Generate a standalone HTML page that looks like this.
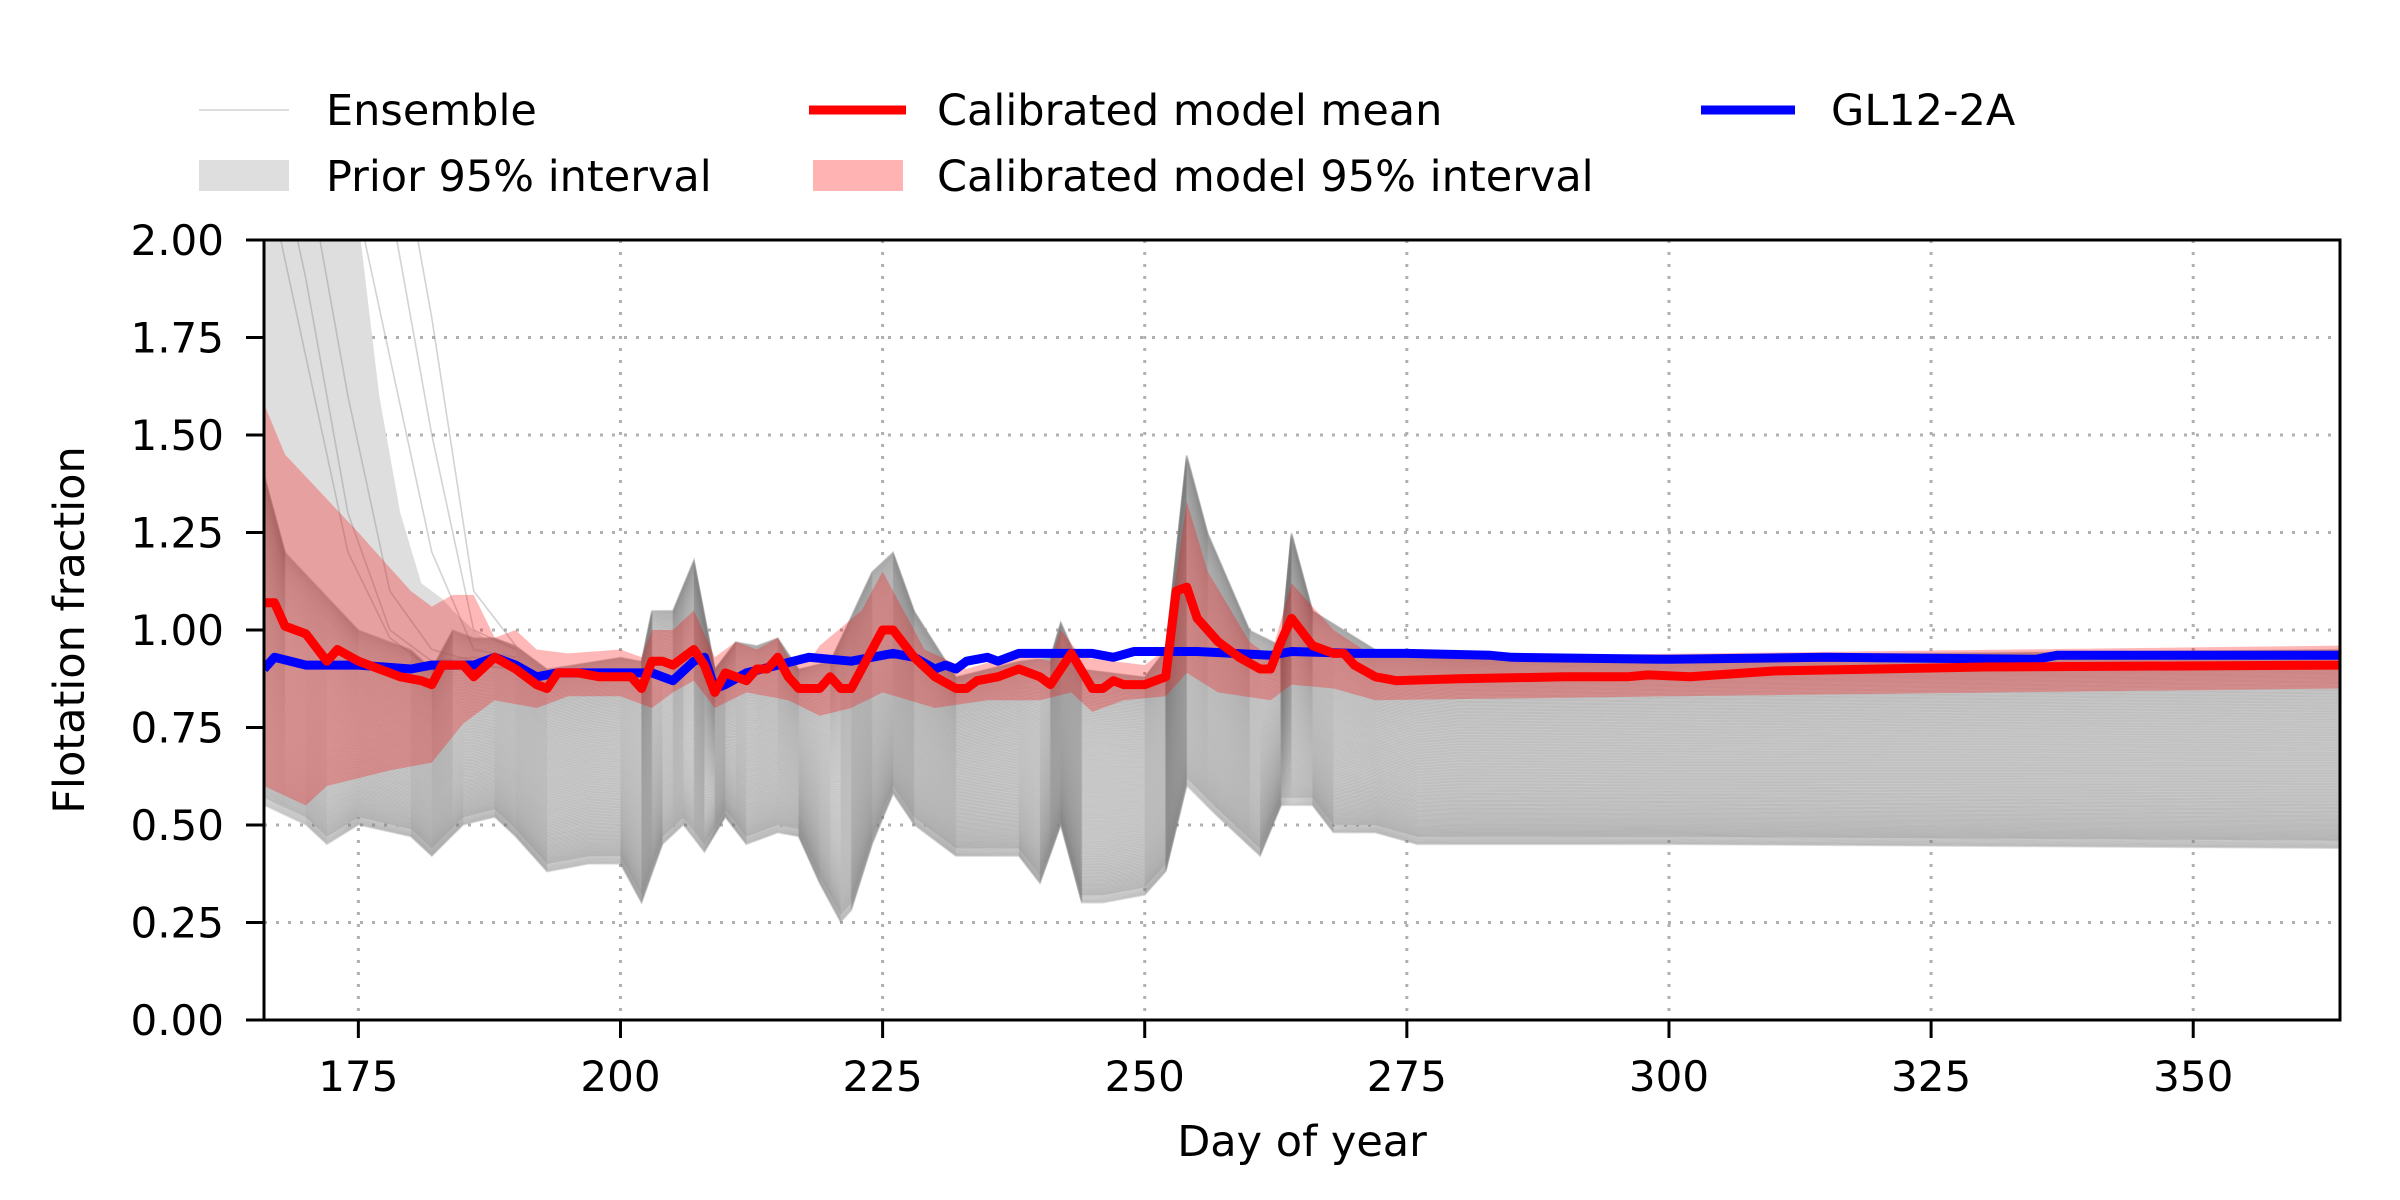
<!DOCTYPE html>
<html><head><meta charset="utf-8"><style>
html,body{margin:0;padding:0;background:#fff;}
svg{display:block;font-family:"DejaVu Sans","Liberation Sans",sans-serif;}
</style></head><body>
<svg id="chart" width="2400" height="1200" viewBox="0 0 2400 1200" xmlns="http://www.w3.org/2000/svg">
<defs><clipPath id="plotclip"><rect x="264" y="240" width="2076" height="780"/></clipPath></defs>
<g id="grid"></g>
<g id="plot" clip-path="url(#plotclip)"></g>
<rect x="264" y="240" width="2076" height="780" fill="none" stroke="#000" stroke-width="3"/>
<g id="axes"></g>
<text x="1302" y="1156" font-size="43" text-anchor="middle">Day of year</text>
<text transform="translate(84,630) rotate(-90)" font-size="43" text-anchor="middle">Flotation fraction</text>
<g font-size="43">
  <g><line x1="199" y1="110" x2="289" y2="110" stroke="#ddd" stroke-width="2"/><text x="326" y="125">Ensemble</text></g>
  <g><rect x="199" y="160" width="90" height="31" fill="#dedede"/><text x="326" y="191">Prior 95% interval</text></g>
  <g><line x1="809" y1="110" x2="906" y2="110" stroke="#ff0000" stroke-width="9"/><text x="937" y="125">Calibrated model mean</text></g>
  <g><rect x="813" y="160" width="90" height="31" fill="#ffb3b3"/><text x="937" y="191">Calibrated model 95% interval</text></g>
  <g><line x1="1701" y1="110" x2="1795" y2="110" stroke="#0000ff" stroke-width="9"/><text x="1831" y="125">GL12-2A</text></g>
</g>
</svg>
<script>
const xTicks=[175,200,225,250,275,300,325,350];
const yTicks=[0,0.25,0.5,0.75,1.0,1.25,1.5,1.75,2.0];
const yTickLabels=["0.00","0.25","0.50","0.75","1.00","1.25","1.50","1.75","2.00"];
const meanDays=[166,167,168,170,172,173,175,177,179,181,182,183,185,186,188,190,192,193,194,196,198,201,202,203,204,205,207,208,209,210,212,213,214,215,216,217,219,220,221,222,224,225,226,228,230,232,233,234,236,238,240,241,243,245,246,247,248,250,252,253,254,255,257,259,261,262,263,264,266,268,269,270,272,274,280,290,296,298,302,310,330,364];
const meanVals=[1.07,1.07,1.01,0.99,0.92,0.95,0.92,0.90,0.88,0.87,0.86,0.91,0.91,0.88,0.93,0.90,0.86,0.85,0.89,0.89,0.88,0.88,0.85,0.92,0.92,0.91,0.95,0.91,0.84,0.89,0.87,0.90,0.90,0.93,0.88,0.85,0.85,0.88,0.85,0.85,0.95,1.00,1.00,0.93,0.88,0.85,0.85,0.87,0.88,0.90,0.88,0.86,0.94,0.85,0.85,0.87,0.86,0.86,0.88,1.10,1.11,1.03,0.97,0.93,0.90,0.90,0.97,1.03,0.96,0.94,0.94,0.91,0.88,0.87,0.875,0.88,0.88,0.885,0.88,0.895,0.905,0.91];
const obsDays=[166,167,170,175,180,182,186,188,190,192,194,200,203,205,207,208,209,210,212,215,218,222,226,228,230,231,232,233,235,236,238,245,247,249,255,262,264,270,275,283,285,300,315,335,337,364];
const obsVals=[0.90,0.93,0.91,0.91,0.90,0.91,0.91,0.93,0.91,0.88,0.89,0.89,0.89,0.87,0.92,0.93,0.85,0.86,0.89,0.91,0.93,0.92,0.94,0.93,0.90,0.91,0.90,0.92,0.93,0.92,0.94,0.94,0.93,0.945,0.945,0.935,0.945,0.94,0.94,0.935,0.93,0.925,0.93,0.925,0.935,0.935];
const calUpDays=[166,168,175,180,182,184,186,188,190,192,195,200,202,203,205,207,209,211,213,215,216,218,219,223,225,227,229,233,238,241,242,244,250,252,254,256,260,262,264,268,272,364];
const calUpVals=[1.58,1.45,1.25,1.10,1.06,1.09,1.09,0.98,1.00,0.95,0.94,0.95,0.93,1.00,1.00,1.05,0.93,0.97,0.95,0.98,0.93,0.92,0.96,1.05,1.15,1.05,0.95,0.90,0.94,0.92,1.00,0.93,0.91,0.95,1.33,1.15,0.97,0.93,1.12,1.00,0.93,0.96];
const calLoDays=[166,170,172,178,182,185,188,192,195,200,203,205,207,209,212,216,219,222,225,230,235,240,243,245,248,252,254,257,262,264,268,272,300,364];
const calLoVals=[0.60,0.55,0.60,0.64,0.66,0.76,0.82,0.80,0.83,0.83,0.80,0.84,0.87,0.80,0.84,0.82,0.78,0.80,0.84,0.80,0.82,0.82,0.84,0.79,0.82,0.83,0.89,0.84,0.82,0.86,0.85,0.82,0.83,0.85];
const ensUpDays=[166,168,175,180,182,184,186,188,190,193,200,202,203,205,207,209,211,213,215,217,220,224,226,228,232,238,241,242,244,250,252,254,256,260,263,264,266,269,272,280,364];
const ensUpVals=[1.40,1.20,1.00,0.95,0.90,1.00,0.98,0.98,0.96,0.90,0.93,0.92,1.05,1.05,1.18,0.90,0.97,0.96,0.98,0.90,0.92,1.15,1.20,1.05,0.88,0.92,0.93,1.02,0.90,0.88,0.95,1.45,1.25,1.00,0.96,1.25,1.05,1.00,0.95,0.93,0.95];
const ensLoDays=[166,170,172,175,180,182,185,188,190,193,197,200,202,204,206,208,210,212,215,217,219,221,222,224,226,228,232,238,240,242,244,246,250,252,254,257,261,263,266,268,272,276,300,364];
const ensLoVals=[0.55,0.50,0.45,0.50,0.47,0.42,0.50,0.52,0.47,0.38,0.40,0.40,0.30,0.45,0.50,0.43,0.52,0.45,0.48,0.47,0.35,0.25,0.28,0.45,0.58,0.50,0.42,0.42,0.35,0.50,0.30,0.30,0.32,0.38,0.60,0.52,0.42,0.55,0.55,0.48,0.48,0.45,0.45,0.44];
const priorUpDays=[166,175,177,179,181,183,184,186];
const priorUpVals=[2.1,2.05,1.6,1.3,1.12,1.08,1.05,1.0];
const outlierDays=[166,170,174,178,182,186,190];
const outlier1=[2.6,2.2,1.6,1.1,0.95,0.92,0.92];
const outlier2=[2.9,2.6,2.2,1.7,1.2,0.95,0.93];
const outlier3=[2.4,1.9,1.3,1.0,0.92,0.93,0.92];
const outlier4=[3.2,3.0,2.6,2.1,1.5,1.0,0.95];
const outlier5=[2.2,1.7,1.2,0.98,0.9,0.91,0.90];
const outlier6=[3.0,2.9,2.8,2.4,1.8,1.1,0.96];
const memberCount=150;

const NS="http://www.w3.org/2000/svg";
const X0=166,X1=364,PX0=264,PX1=2340,PY0=1020,PYS=390;
function X(d){return PX0+(d-X0)*(PX1-PX0)/(X1-X0);}
function Y(v){return PY0-v*PYS;}
function interp(ds,vs,d){if(d<=ds[0])return vs[0];for(let i=1;i<ds.length;i++){if(d<=ds[i]){const t=(d-ds[i-1])/(ds[i]-ds[i-1]);return vs[i-1]+t*(vs[i]-vs[i-1]);}}return vs[vs.length-1];}
function mk(tag,attrs,parent){const e=document.createElementNS(NS,tag);for(const k in attrs)e.setAttribute(k,attrs[k]);parent.appendChild(e);return e;}
function linePath(ds,vs){return ds.map((d,i)=>(i?'L':'M')+X(d).toFixed(1)+','+Y(vs[i]).toFixed(1)).join('');}
const allDays=[];for(let d=166;d<=364;d++)allDays.push(d);

const grid=document.getElementById('grid'),plot=document.getElementById('plot'),axes=document.getElementById('axes');
xTicks.forEach(t=>{const g=mk('line',{x1:X(t),x2:X(t),y1:240,y2:1020,stroke:'#b0b0b0','stroke-width':3,'stroke-dasharray':'3,9'},grid);

});
yTicks.forEach(t=>{const g=mk('line',{x1:264,x2:2340,y1:Y(t),y2:Y(t),stroke:'#b0b0b0','stroke-width':3,'stroke-dasharray':'3,9'},grid);

});
{const up=allDays.map(d=>d<=186?Math.max(interp(priorUpDays,priorUpVals,d),interp(ensUpDays,ensUpVals,d)):interp(ensUpDays,ensUpVals,d));
const lo=allDays.map(d=>interp(ensLoDays,ensLoVals,d)+0.02);
let p=linePath(allDays,up)+allDays.slice().reverse().map((d,i)=>'L'+X(d).toFixed(1)+','+Y(lo[lo.length-1-i]).toFixed(1)).join('')+'Z';
const e=mk('path',{d:p,fill:'#dedede'},plot);

}
for(let k=0;k<memberCount;k++){
  let f=(k+0.5)/memberCount; f=f*f*(3-2*f)*0.5+f*0.5;
  const vs=allDays.map(d=>{const lo=interp(ensLoDays,ensLoVals,d),up=interp(ensUpDays,ensUpVals,d);return lo+(up-lo)*f;});
  const e=mk('path',{d:linePath(allDays,vs),fill:'none',stroke:'#7a7a7a','stroke-opacity':0.22,'stroke-width':2},plot);
  
  
}
[outlier1,outlier2,outlier3,outlier4,outlier5,outlier6].forEach(o=>{
  const e=mk('path',{d:linePath(outlierDays,o),fill:'none',stroke:'#808080','stroke-opacity':0.35,'stroke-width':1.6},plot);
  
  
});
{const up=allDays.map(d=>interp(calUpDays,calUpVals,d));const lo=allDays.map(d=>interp(calLoDays,calLoVals,d));
let p=linePath(allDays,up)+allDays.slice().reverse().map((d,i)=>'L'+X(d).toFixed(1)+','+Y(lo[lo.length-1-i]).toFixed(1)).join('')+'Z';
const e=mk('path',{d:p,fill:'#ff0000','fill-opacity':0.28},plot);

}
{const e=mk('path',{d:linePath(obsDays,obsVals),fill:'none',stroke:'#0000ff','stroke-width':9,'stroke-linejoin':'round'},plot);

}
{const e=mk('path',{d:linePath(meanDays,meanVals),fill:'none',stroke:'#ff0000','stroke-width':9,'stroke-linejoin':'round'},plot);

}
xTicks.forEach(t=>{const l=mk('line',{x1:X(t),x2:X(t),y1:1020,y2:1038,stroke:'#000','stroke-width':3},axes);


const tx=mk('text',{x:X(t),y:1091,'font-size':42,'text-anchor':'middle'},axes);tx.textContent=String(t);

});
yTicks.forEach((t,i)=>{const l=mk('line',{x1:246,x2:264,y1:Y(t),y2:Y(t),stroke:'#000','stroke-width':3},axes);


const tx=mk('text',{x:224,y:Y(t)+15,'font-size':42,'text-anchor':'end'},axes);tx.textContent=yTickLabels[i];

});
</script>
</body></html>
